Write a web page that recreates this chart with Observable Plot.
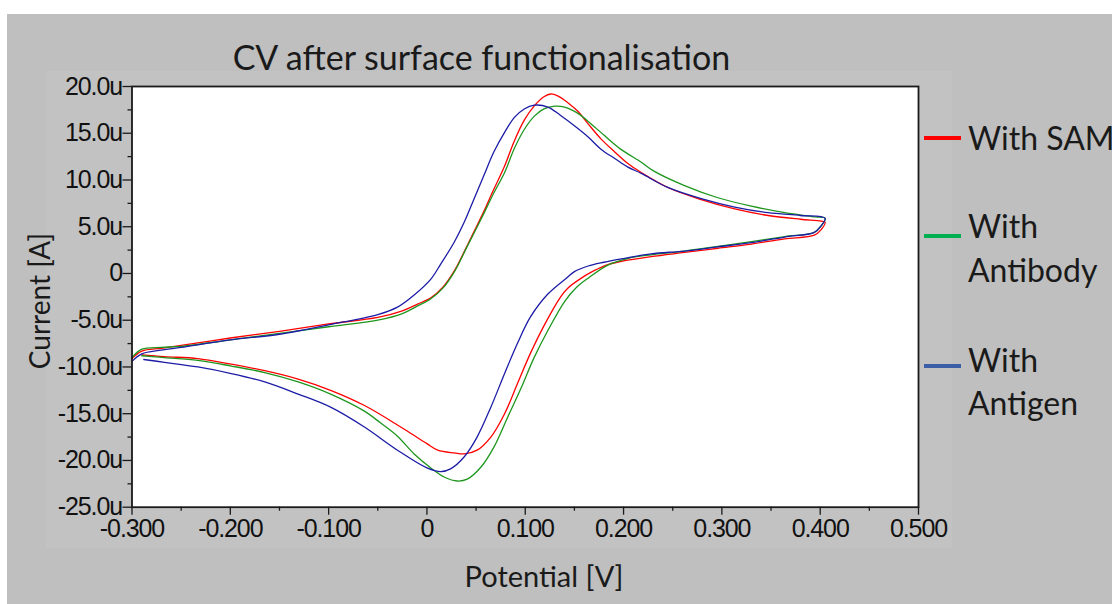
<!DOCTYPE html>
<html><head><meta charset="utf-8">
<script src="https://cdn.jsdelivr.net/npm/d3@7"></script>
<script src="https://cdn.jsdelivr.net/npm/@observablehq/plot@0.6"></script>
<style>
body{margin:0;background:#fff;}
#wrap{position:relative;width:1112px;height:604px;overflow:hidden;background:#fff;}
#bg{position:absolute;left:7px;top:14px;width:1105px;height:590px;background:#bfbfbf;}
#inner{position:absolute;left:46px;top:71px;width:906px;height:477px;background:#c2c2c2;}
#chart{position:absolute;left:0;top:0;}
#overlay{position:absolute;left:0;top:0;}
</style></head>
<body>
<div id="wrap"><div id="bg"></div><div id="inner"></div><div id="chart"></div><div id="overlay"></div></div>
<script>
// ---- data (Potential in V, Current in µA) ----
const seriesNames = ["With SAM", "With Antibody", "With Antigen"];
const seriesColors = ["#ff0000", "#1e961e", "#1c1ca6"];
const legendColors = ["#ff0000", "#00b050", "#3c5ea6"];

const samV = [-0.300,-0.290,-0.270,-0.250,-0.200,-0.150,-0.100,-0.050,-0.025,-0.010,0.004,0.016,0.028,0.041,0.055,0.068,0.079,0.089,0.099,0.109,0.119,0.126,0.133,0.143,0.154,0.164,0.177,0.191,0.204,0.218,0.245,0.279,0.313,0.347,0.380,0.401,0.405,
  0.401,0.394,0.364,0.330,0.296,0.262,0.228,0.200,0.184,0.170,0.157,0.143,0.136,0.119,0.105,0.092,0.079,0.065,0.051,0.038,0.028,0.011,0.000,-0.015,-0.030,-0.064,-0.098,-0.131,-0.165,-0.199,-0.233,-0.267,-0.290];
const samI = [-9.1,-8.3,-8.0,-7.7,-6.9,-6.2,-5.4,-4.7,-4.0,-3.3,-2.6,-1.5,0.3,3.0,6.0,9.0,11.5,14.2,16.4,17.9,18.9,19.2,19.0,18.3,17.3,16.0,14.4,13.0,11.8,10.8,9.2,7.9,6.9,6.2,5.8,5.6,5.5,
  4.7,4.1,3.7,3.15,2.7,2.25,1.8,1.35,0.95,0.3,-0.5,-1.6,-2.5,-5.6,-8.6,-11.8,-15.0,-17.5,-18.9,-19.3,-19.2,-18.9,-18.2,-17.2,-16.2,-14.1,-12.5,-11.3,-10.4,-9.7,-9.1,-8.9,-8.7];

const antibodyV = [-0.300,-0.290,-0.270,-0.250,-0.200,-0.150,-0.100,-0.050,-0.025,-0.010,0.004,0.016,0.028,0.041,0.055,0.068,0.079,0.089,0.099,0.109,0.119,0.130,0.140,0.154,0.167,0.180,0.197,0.218,0.230,0.262,0.296,0.330,0.364,0.395,0.405,
  0.401,0.394,0.364,0.330,0.296,0.262,0.228,0.204,0.184,0.164,0.152,0.140,0.123,0.109,0.096,0.082,0.068,0.055,0.041,0.031,0.018,0.004,-0.013,-0.030,-0.047,-0.064,-0.098,-0.131,-0.165,-0.199,-0.233,-0.267,-0.290];
const antibodyI = [-9.0,-8.1,-7.9,-7.8,-7.1,-6.4,-5.7,-5.0,-4.3,-3.5,-2.7,-1.6,0.2,2.9,5.8,8.6,10.8,13.4,15.4,16.8,17.6,17.9,17.8,17.1,16.0,14.8,13.3,11.9,11.0,9.4,8.1,7.2,6.5,6.05,5.9,
  5.1,4.4,3.95,3.4,2.9,2.4,2.0,1.6,0.9,-0.5,-1.5,-3.0,-6.1,-9.0,-12.2,-15.4,-18.6,-20.7,-22.0,-22.2,-21.8,-20.8,-19.3,-17.4,-16.0,-14.7,-12.9,-11.6,-10.6,-9.9,-9.3,-9.0,-8.8];

const antigenV = [-0.300,-0.290,-0.270,-0.250,-0.200,-0.150,-0.100,-0.050,-0.030,-0.013,0.004,0.014,0.028,0.038,0.048,0.058,0.068,0.079,0.089,0.099,0.109,0.123,0.136,0.150,0.164,0.177,0.191,0.204,0.218,0.245,0.279,0.313,0.347,0.380,0.405,
  0.401,0.394,0.364,0.330,0.296,0.262,0.228,0.200,0.180,0.164,0.150,0.143,0.123,0.105,0.092,0.079,0.065,0.051,0.038,0.024,0.014,0.000,-0.030,-0.064,-0.098,-0.131,-0.165,-0.199,-0.233,-0.267,-0.288];
const antigenI = [-9.4,-8.6,-8.2,-7.9,-7.1,-6.5,-5.5,-4.4,-3.6,-2.3,-0.6,1.0,3.4,5.5,8.0,10.5,13.0,15.1,16.7,17.6,18.0,17.8,16.9,15.8,14.6,13.3,12.3,11.4,10.7,9.2,8.0,7.1,6.5,6.2,5.9,
  5.1,4.4,3.9,3.3,2.85,2.4,2.1,1.6,1.2,0.8,0.2,-0.4,-2.2,-4.7,-7.5,-10.7,-14.3,-17.5,-19.6,-20.9,-21.2,-20.8,-18.9,-16.4,-14.3,-12.9,-11.6,-10.7,-10.0,-9.5,-9.2];

const xMajor = [-0.3,-0.2,-0.1,0,0.1,0.2,0.3,0.4,0.5];
const xMinor = [-0.25,-0.15,-0.05,0.05,0.15,0.25,0.35,0.45];
const yMajor = [20,15,10,5,0,-5,-10,-15,-20,-25];
const yMinor = [17.5,12.5,7.5,2.5,-2.5,-7.5,-12.5,-17.5,-22.5];

const titleText = "CV after surface functionalisation";
const xLabel = "Potential [V]";
const yLabel = "Current [A]";

// ---- build table ----
const rows = [];
[[samV, samI], [antibodyV, antibodyI], [antigenV, antigenI]].forEach(([V, I], k) => {
  V.forEach((v, i) => rows.push({V: v, I: I[i], name: seriesNames[k]}));
});

const fmtX = d => d === 0 ? "0" : d.toFixed(3);
const fmtY = d => d === 0 ? "0" : d.toFixed(1) + "u";

const chart = Plot.plot({
  width: 1112, height: 604,
  marginLeft: 131.5, marginRight: 194, marginTop: 86, marginBottom: 97.3,
  x: {domain: [-0.3, 0.5]},
  y: {domain: [-25, 20]},
  color: {domain: seriesNames, range: seriesColors},
  style: {background: "transparent", fontFamily: "'Liberation Sans', Arial, sans-serif", fontSize: "25px", letterSpacing: "-1.1px", color: "#111", overflow: "visible"},
  marks: [
    Plot.frame({fill: "white", stroke: null}),
    Plot.line(rows, {x: "V", y: "I", z: "name", stroke: "name", strokeWidth: 1.3, curve: "catmull-rom"}),
    Plot.frame({stroke: "#1a1a1a", strokeWidth: 1.8}),
    Plot.axisX({ticks: xMajor, tickSize: 8, tickPadding: 4, tickFormat: fmtX, label: null, stroke: "#1a1a1a", strokeWidth: 1.3}),
    Plot.axisX({ticks: xMinor, tickSize: 4, tickFormat: () => "", label: null, stroke: "#1a1a1a", strokeWidth: 1.3}),
    Plot.axisY({ticks: yMajor, tickSize: 9, tickPadding: 1, tickFormat: fmtY, label: null, stroke: "#1a1a1a", strokeWidth: 1.3}),
    Plot.axisY({ticks: yMinor, tickSize: 4, tickFormat: () => "", label: null, stroke: "#1a1a1a", strokeWidth: 1.3})
  ]
});
document.getElementById("chart").appendChild(chart);

// ---- title, axis titles, legend ----
const ov = d3.select("#overlay").append("svg").attr("width", 1112).attr("height", 604)
  .style("font-family", "Lato, 'Open Sans', sans-serif").style("fill", "#1a1a1a");
ov.append("text").attr("x", 481.5).attr("y", 70).attr("text-anchor", "middle").attr("font-size", 34).text(titleText);
ov.append("text").attr("x", 544).attr("y", 587).attr("text-anchor", "middle").attr("font-size", 29).text(xLabel);
ov.append("text").attr("transform", "translate(50,301) rotate(-90)").attr("text-anchor", "middle").attr("font-size", 28).text(yLabel);

const legendItems = [
  {lineY: 138, lines: ["With SAM"], base: 150},
  {lineY: 236, lines: ["With", "Antibody"], base: 238},
  {lineY: 366, lines: ["With", "Antigen"], base: 371.5}
];
legendItems.forEach((it, k) => {
  ov.append("line").attr("x1", 924).attr("x2", 961).attr("y1", it.lineY).attr("y2", it.lineY)
    .attr("stroke", legendColors[k]).attr("stroke-width", 4);
  it.lines.forEach((t, j) => {
    ov.append("text").attr("x", 968).attr("y", it.base + j * 43.5).attr("font-size", 32).text(t);
  });
});
</script>
</body></html>
